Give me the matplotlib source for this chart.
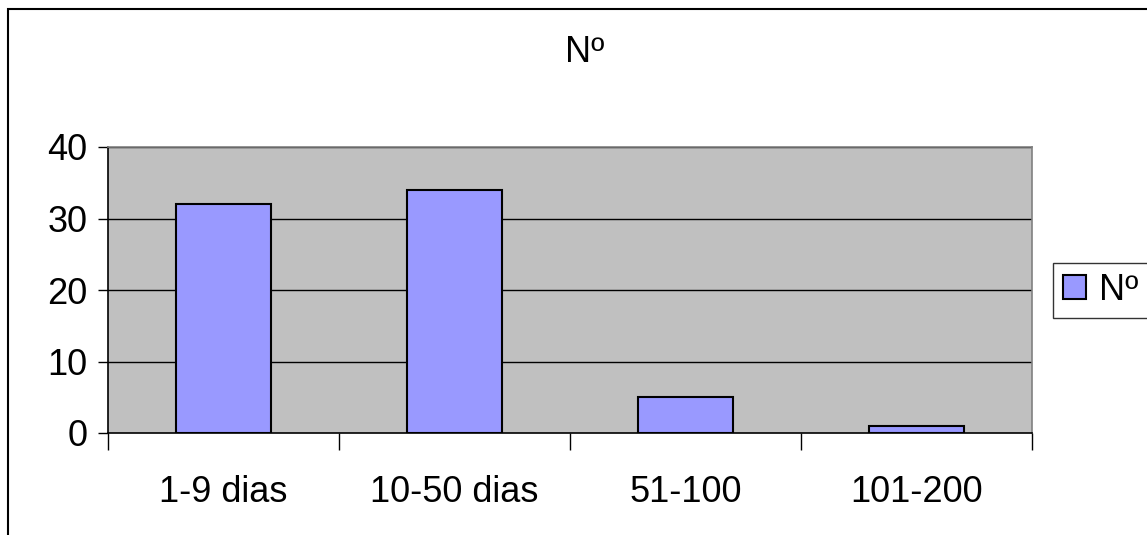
import matplotlib
matplotlib.use("Agg")
import matplotlib.pyplot as plt
from matplotlib.patches import Rectangle

categories = ["1-9 dias", "10-50 dias", "51-100", "101-200"]
values = [32, 34, 5, 1]
series_name = "Nº"
yticks = [0, 10, 20, 30, 40]

W, H = 1147, 535
plt.rcParams["font.family"] = ["Liberation Sans", "DejaVu Sans"]
fs = 26

fig = plt.figure(figsize=(W / 100, H / 100), dpi=100)
fig.patch.set_facecolor("white")

# outer chart border (cropped on right/bottom)
fig.add_artist(Rectangle((8 / W, -0.1), 1.2, 1.1 - 9 / H, transform=fig.transFigure,
                         fill=False, edgecolor="black", linewidth=1.5, clip_on=False))

# plot area: x 108..1032, y 147..433
ax = fig.add_axes([108 / W, 1 - 433 / H, (1032 - 108) / W, (433 - 147) / H])
ax.set_facecolor("#C0C0C0")

x = range(len(categories))
ax.bar(x, values, width=0.41, color="#9999FF", edgecolor="black", linewidth=1.5,
       label=series_name, zorder=3)

ax.set_xlim(-0.5, len(categories) - 0.5)
ax.set_ylim(0, 40)
ax.set_yticks(yticks)
ax.set_yticklabels([str(v) for v in yticks], fontsize=fs)
for v in yticks[1:]:
    ax.axhline(v, color="black", linewidth=1, zorder=1)

ax.set_xticks([i - 0.5 for i in range(len(categories) + 1)], minor=False)
ax.set_xticklabels([])
ax.set_xticks(list(x), minor=True)
ax.set_xticklabels(categories, minor=True, fontsize=fs)
ax.tick_params(axis="x", which="major", direction="out", length=12, width=1, color="black")
ax.tick_params(axis="x", which="minor", length=0, pad=30)
ax.tick_params(axis="y", direction="out", length=7, width=1, color="black", pad=8)

for s in ["top", "right"]:
    ax.spines[s].set_color("#808080")
    ax.spines[s].set_linewidth(1.2)
for s in ["left", "bottom"]:
    ax.spines[s].set_color("black")
    ax.spines[s].set_linewidth(1.2)

fig.text(585 / W, 1 - 52 / H, series_name, ha="center", va="center", fontsize=fs)

leg = ax.legend(loc="upper left", bbox_to_anchor=(1053 / W, 1 - 263 / H),
                bbox_transform=fig.transFigure, fontsize=fs, frameon=True,
                fancybox=False, borderpad=0.27, handlelength=0.65, handleheight=0.65,
                handletextpad=0.35, borderaxespad=0)
leg.get_frame().set_edgecolor("black")
leg.get_frame().set_linewidth(1)

fig.savefig("out.png", dpi=100)
